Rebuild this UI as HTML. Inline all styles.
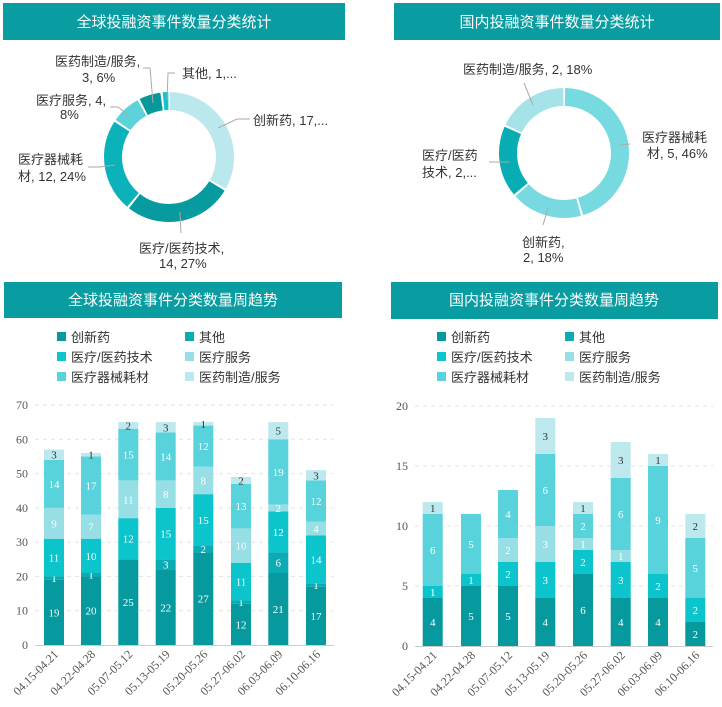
<!DOCTYPE html>
<html><head><meta charset="utf-8">
<style>
html,body{margin:0;padding:0;background:#fff;}
svg{display:block;font-family:"Liberation Sans","Noto Sans CJK SC",sans-serif;}
.t{font-size:13px;fill:#333;}
.hd{font-size:15px;fill:#fff;text-anchor:middle;}
.ld{stroke:#aaa;stroke-width:1;fill:none;}
.ax{font-family:"Liberation Serif","Noto Serif CJK SC",serif;font-size:12px;fill:#555;}
.v{font-family:"Liberation Serif",serif;font-size:11px;text-anchor:middle;}
</style></head><body>
<svg id="s" width="722" height="707" viewBox="0 0 722 707" xmlns="http://www.w3.org/2000/svg">
<rect x="3" y="3" width="342" height="37" fill="#099ca1"/>
<text class="hd" x="174" y="27">全球投融资事件数量分类统计</text>
<rect x="394" y="3" width="326" height="37" fill="#099ca1"/>
<text class="hd" x="557" y="27">国内投融资事件数量分类统计</text>
<rect x="4" y="282" width="338" height="36" fill="#099ca1"/>
<text class="hd" x="173" y="305">全球投融资事件分类数量周趋势</text>
<rect x="391" y="282" width="327" height="37" fill="#099ca1"/>
<text class="hd" x="554" y="305">国内投融资事件分类数量周趋势</text>
<g id="g"></g>
<!-- global donut labels -->
<polyline class="ld" points="143,68 150,68 153,103"/>
<polyline class="ld" points="175,73 168,73 167,100"/>
<polyline class="ld" points="110,107 118,107 128,115"/>
<polyline class="ld" points="250,119 237,119 218,128"/>
<polyline class="ld" points="88,167 100,167 115,165"/>
<polyline class="ld" points="181,233 180,212"/>
<text class="t" x="55" y="66">医药制造/服务,</text>
<text class="t" x="82" y="82">3, 6%</text>
<text class="t" x="182" y="78">其他, 1,...</text>
<text class="t" x="36" y="105">医疗服务, 4,</text>
<text class="t" x="60" y="119">8%</text>
<text class="t" x="253" y="125">创新药, 17,...</text>
<text class="t" x="18" y="164">医疗器械耗</text>
<text class="t" x="18" y="181">材, 12, 24%</text>
<text class="t" x="139" y="253">医疗/医药技术,</text>
<text class="t" x="159" y="268">14, 27%</text>
<!-- domestic labels -->
<polyline class="ld" points="524,83 533,105"/>
<polyline class="ld" points="630,144 620,145"/>
<polyline class="ld" points="489,162 509,162"/>
<polyline class="ld" points="543,225 548,208"/>
<text class="t" x="463" y="74">医药制造/服务, 2, 18%</text>
<text class="t" x="642" y="142">医疗器械耗</text>
<text class="t" x="647" y="158">材, 5, 46%</text>
<text class="t" x="422" y="160">医疗/医药</text>
<text class="t" x="422" y="177">技术, 2,...</text>
<text class="t" x="522" y="247">创新药,</text>
<text class="t" x="523" y="262">2, 18%</text>
</svg>
<script>
var NS="http://www.w3.org/2000/svg",g=document.getElementById("g");
function el(t,a,txt){var e=document.createElementNS(NS,t);for(var k in a)e.setAttribute(k,a[k]);if(txt!=null)e.textContent=txt;g.appendChild(e);return e;}
function donut(cx,cy,vals,cols){var r=56,C=2*Math.PI*r,tot=vals.reduce(function(a,b){return a+b},0),s=0;
 vals.forEach(function(v,i){var L=v/tot*C;el("circle",{cx:cx,cy:cy,r:r,fill:"none",stroke:cols[i],"stroke-width":18,
 "stroke-dasharray":Math.max(L-2,0.5)+" "+C,"stroke-dashoffset":-(s+1),transform:"rotate(-90 "+cx+" "+cy+")"});s+=L;});}
donut(169,157,[17,14,12,4,3,1],["#bbe8ed","#079a9e","#0bb2ba","#5cd3db","#07989c","#12c3cb"]);
donut(564,153,[5,2,2,2],["#76dae0","#78d9e0","#07adb2","#a6e3e8"]);
var cols=["#06999e","#0aabb3","#0cc5cc","#97dfe4","#58d3dc","#bde9ee"];
var names=["创新药","其他","医疗/医药技术","医疗服务","医疗器械耗材","医药制造/服务"];
var xl=["04.15-04.21","04.22-04.28","05.07-05.12","05.13-05.19","05.20-05.26","05.27-06.02","06.03-06.09","06.10-06.16"];
function legend(x0,x1){for(var i=0;i<6;i++){var x=i%2?x1:x0,y=337+Math.floor(i/2)*20;
 el("rect",{x:x,y:y-5,width:9,height:9,fill:cols[i]});el("text",{x:x+14,y:y+5,"class":"t"},names[i]);}}
legend(57,185);legend(437,565);
function bars(ax0,ax1,y0,ppu,maxv,step,centers,data){
 for(var v=0;v<=maxv;v+=step){var y=y0-v*ppu;
  if(v>0)el("line",{x1:ax0,x2:ax1,y1:y,y2:y,stroke:"#e3e3e3","stroke-dasharray":"4,4"});
  el("text",{x:ax0-7,y:y+4,"class":"ax","text-anchor":"end"},v);}
 el("line",{x1:ax0,x2:ax1,y1:y0+0.5,y2:y0+0.5,stroke:"#ccc"});
 data.forEach(function(d,j){var c=centers[j],acc=0;
  d.forEach(function(v,i){if(!v)return;var yb=y0-acc*ppu,h=v*ppu;
   el("rect",{x:c-10,y:yb-h,width:20,height:h,fill:cols[i]});
   el("text",{x:c,y:yb-h/2+4,"class":"v",fill:i==5?"#333":"#fff"},v);acc+=v;});
  el("text",{x:c+5,y:y0+10,"class":"ax","text-anchor":"end",transform:"rotate(-45 "+(c+5)+" "+(y0+10)+")"},xl[j]);});}
bars(35,334,645,240/70,70,10,[54,91,128.3,165.7,203.3,241,278.3,316],
 [[19,1,11,9,14,3],[20,1,10,7,17,1],[25,0,12,11,15,2],[22,3,15,8,14,3],[27,2,15,8,12,1],[12,1,11,10,13,2],[21,6,12,2,19,5],[17,1,14,4,12,3]]);
bars(415,713,646,12,20,5,[432.7,471,508,545.3,583,620.7,658,695.3],
 [[4,0,1,0,6,1],[5,0,1,0,5,0],[5,0,2,2,4,0],[4,0,3,3,6,3],[6,0,2,1,2,1],[4,0,3,1,6,3],[4,0,2,0,9,1],[2,0,2,0,5,2]]);
</script>
</body></html>
